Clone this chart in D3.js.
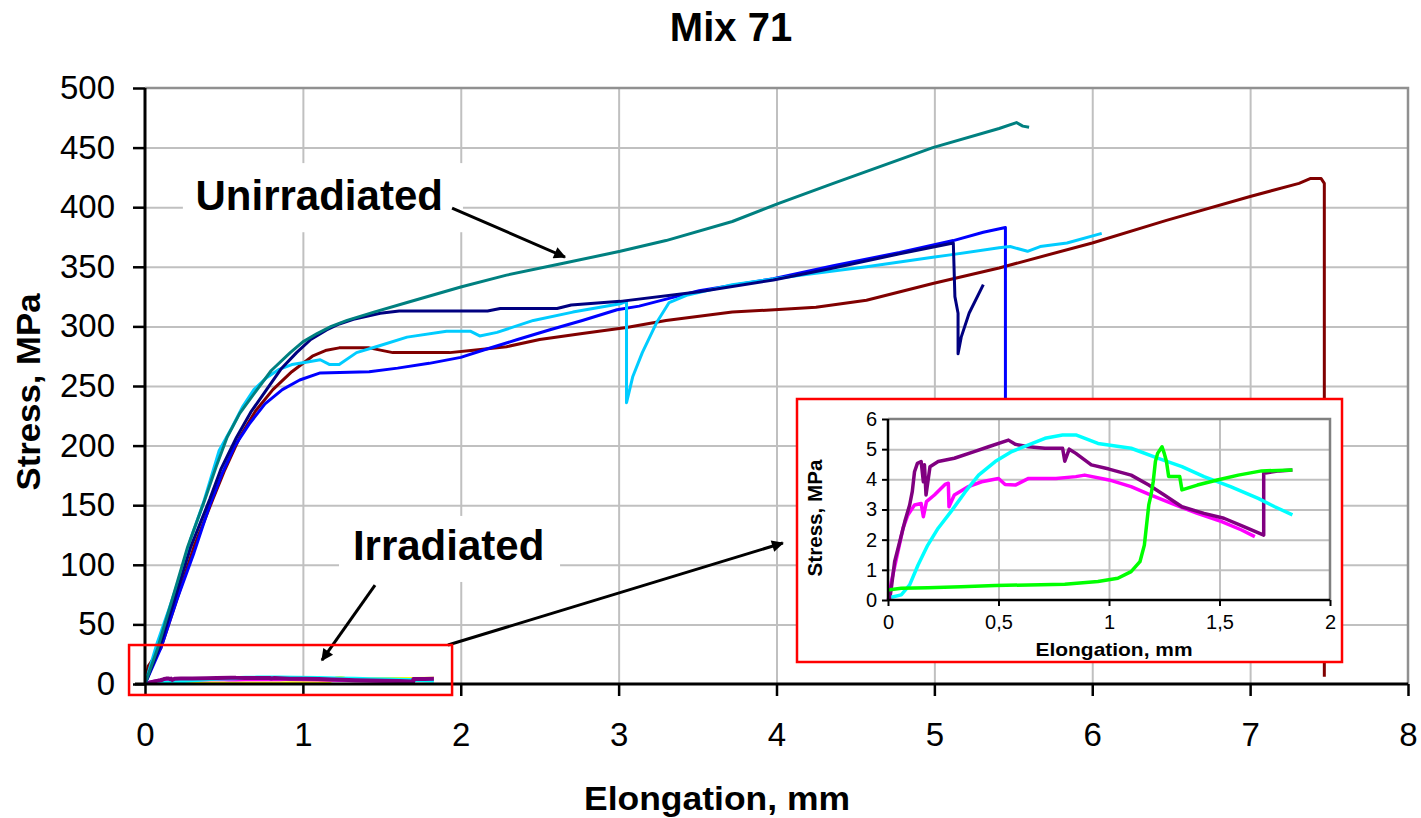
<!DOCTYPE html>
<html>
<head>
<meta charset="utf-8">
<script src="https://cdnjs.cloudflare.com/ajax/libs/d3/7.8.5/d3.min.js"></script>
<style>
  html, body { margin: 0; padding: 0; background: #fff; }
  svg { display: block; font-family: "Liberation Sans", Arial, sans-serif; }
</style>
</head>
<body>
<script>
// tick labels
var xTicks = [0, 1, 2, 3, 4, 5, 6, 7, 8];
var yTicks = [0, 50, 100, 150, 200, 250, 300, 350, 400, 450, 500];
var insetXTicks = [0, 0.5, 1, 1.5, 2];
var insetXLabels = ["0", "0,5", "1", "1,5", "2"];
var insetYTicks = [0, 1, 2, 3, 4, 5, 6];

// unirradiated specimens: [elongation mm, stress MPa]
var teal = [[0,0],[0.08,30],[0.17,70],[0.27,115],[0.38,155],[0.45,182],[0.52,207],[0.6,227],[0.71,247],[0.8,263],[0.92,278],[1.0,287],[1.09,294],[1.18,300],[1.28,305],[1.45,312],[1.66,320],[2.0,333],[2.29,343],[2.65,353],[3.01,363],[3.30,372],[3.72,388],[4.01,403],[4.36,420],[4.99,450],[5.41,466],[5.52,471],[5.56,468],[5.6,467]];
var navy = [[0,0],[0.09,30],[0.19,72],[0.29,115],[0.41,155],[0.48,180],[0.58,207],[0.67,228],[0.77,247],[0.86,264],[0.96,278],[1.05,289],[1.15,297],[1.23,302],[1.32,306],[1.49,311],[1.61,313],[2.17,313],[2.25,315],[2.61,315],[2.7,318],[3.01,321],[3.51,329],[3.98,339],[4.36,349],[4.78,361],[5.12,370],[5.13,325],[5.15,311],[5.15,277],[5.17,291],[5.22,311],[5.31,335]];
var blue = [[0,0],[0.1,30],[0.2,70],[0.31,110],[0.41,150],[0.49,177],[0.57,200],[0.665,219],[0.76,235],[0.87,247],[0.98,255],[1.11,261],[1.42,262],[1.60,265],[1.80,269],[2.0,274],[2.14,280],[2.36,289],[2.56,297],[2.77,305],[2.99,314],[3.13,317],[3.51,330],[3.98,340],[4.36,351],[4.78,362],[5.12,372],[5.31,379],[5.45,383],[5.45,30]];
var skyBlue = [[0,0],[0.076,34],[0.15,62],[0.22,90],[0.29,122],[0.37,152],[0.47,196],[0.55,215],[0.62,233],[0.69,247],[0.77,257],[0.85,264],[0.93,268],[1.02,270],[1.11,272],[1.17,268],[1.23,268],[1.34,278],[1.49,284],[1.66,291],[1.91,296],[2.06,296],[2.12,292],[2.23,295],[2.46,305],[2.71,312],[3.01,319],[3.05,321],[3.05,236],[3.09,258],[3.15,278],[3.24,303],[3.32,320],[3.43,326],[3.72,335],[4.15,343],[4.57,350],[4.99,358],[5.10,360],[5.41,366],[5.48,367],[5.59,363],[5.67,367],[5.84,370],[6.06,378]];
var darkRed = [[0,0],[0.02,15],[0.1,30],[0.2,70],[0.31,115],[0.43,155],[0.5,178],[0.6,207],[0.7,229],[0.81,247],[0.93,262],[1.06,275],[1.15,280],[1.23,282],[1.42,282],[1.57,278],[1.93,278],[2.08,280],[2.29,283],[2.50,289],[2.77,294],[3.05,299],[3.30,305],[3.72,312],[4.25,316],[4.57,322],[4.99,336],[5.41,349],[6.0,370],[6.47,389],[7.0,409],[7.31,420],[7.38,424],[7.45,424],[7.47,420],[7.47,6]];

// irradiated specimens
var irrPurple = [[0,0],[0.008,0.05],[0.015,0.4],[0.03,1.27],[0.053,1.93],[0.076,2.6],[0.098,3.15],[0.11,3.6],[0.12,4.25],[0.133,4.53],[0.15,4.59],[0.16,3.92],[0.165,4.48],[0.172,3.48],[0.19,4.42],[0.227,4.59],[0.30,4.70],[0.39,4.92],[0.455,5.08],[0.545,5.30],[0.576,5.16],[0.636,5.08],[0.71,5.03],[0.79,5.03],[0.80,4.6],[0.82,5.0],[0.85,4.86],[0.92,4.48],[1.0,4.34],[1.10,4.14],[1.18,3.81],[1.25,3.48],[1.33,3.09],[1.43,2.87],[1.52,2.71],[1.61,2.43],[1.70,2.15],[1.70,4.20],[1.77,4.28],[1.83,4.31]];
var irrMagenta = [[0,0],[0.003,0.05],[0.015,0.6],[0.045,1.6],[0.068,2.38],[0.09,2.82],[0.12,3.15],[0.15,3.2],[0.16,2.76],[0.174,3.26],[0.21,3.48],[0.258,3.83],[0.273,3.87],[0.276,3.09],[0.30,3.48],[0.364,3.76],[0.424,3.92],[0.50,4.03],[0.53,3.83],[0.576,3.81],[0.636,4.03],[0.76,4.03],[0.85,4.09],[0.89,4.14],[1.0,3.98],[1.10,3.76],[1.19,3.48],[1.30,3.15],[1.40,2.87],[1.51,2.60],[1.60,2.32],[1.66,2.10]];
var irrCyan = [[0.015,0.09],[0.06,0.17],[0.098,0.5],[0.136,1.16],[0.18,1.82],[0.227,2.38],[0.29,2.98],[0.35,3.59],[0.41,4.14],[0.485,4.59],[0.56,4.92],[0.636,5.14],[0.71,5.36],[0.79,5.47],[0.85,5.47],[0.95,5.19],[1.10,5.03],[1.22,4.70],[1.33,4.42],[1.43,4.09],[1.55,3.76],[1.675,3.37],[1.75,3.09],[1.83,2.82]];
var irrGreen = [[0,0.33],[0.06,0.39],[0.18,0.41],[0.33,0.44],[0.485,0.48],[0.636,0.5],[0.80,0.52],[0.95,0.61],[1.04,0.72],[1.10,0.94],[1.14,1.27],[1.16,1.82],[1.18,3.15],[1.19,3.48],[1.20,3.92],[1.21,4.59],[1.22,4.86],[1.24,5.08],[1.25,4.86],[1.26,4.59],[1.27,4.09],[1.32,4.09],[1.33,3.65],[1.40,3.81],[1.49,3.98],[1.585,4.14],[1.69,4.28],[1.83,4.31]];

var width = 1421, height = 818;
var plot = { left: 145, right: 1408, top: 88, bottom: 684 };
var gridColor = "#c0c0c0";

var svg = d3.select("body").append("svg")
  .attr("width", width)
  .attr("height", height);

var defs = svg.append("defs");
defs.append("marker")
  .attr("id", "head")
  .attr("viewBox", "0 0 10 10")
  .attr("refX", 9).attr("refY", 5)
  .attr("markerWidth", 5.5).attr("markerHeight", 4)
  .attr("markerUnits", "strokeWidth")
  .attr("orient", "auto")
  .append("path").attr("d", "M0,0 L10,5 L0,10 Z").attr("fill", "#000");
defs.append("clipPath").attr("id", "mainClip")
  .append("rect")
  .attr("x", plot.left).attr("y", plot.top - 4)
  .attr("width", plot.right - plot.left).attr("height", plot.bottom - plot.top + 4);

var x = d3.scaleLinear().domain([0, 8]).range([plot.left, plot.right]);
var y = d3.scaleLinear().domain([0, 500]).range([plot.bottom, plot.top]);

// gridlines
svg.append("g")
  .attr("transform", "translate(0," + plot.bottom + ")")
  .call(d3.axisBottom(x).tickValues(xTicks.slice(1, -1)).tickSize(-(plot.bottom - plot.top)).tickFormat(""))
  .call(function(g){ g.select(".domain").remove(); })
  .selectAll("line").attr("stroke", gridColor).attr("stroke-width", 2);
svg.append("g")
  .attr("transform", "translate(" + plot.left + ",0)")
  .call(d3.axisLeft(y).tickValues(yTicks.slice(1, -1)).tickSize(-(plot.right - plot.left)).tickFormat(""))
  .call(function(g){ g.select(".domain").remove(); })
  .selectAll("line").attr("stroke", gridColor).attr("stroke-width", 2);

// plot border (top, right)
svg.append("path")
  .attr("d", "M" + plot.left + "," + plot.top + "H" + plot.right + "V" + plot.bottom)
  .attr("fill", "none").attr("stroke", "#909090").attr("stroke-width", 2.5);

// white label backgrounds
svg.append("rect")
  .attr("x", x(0.24)).attr("y", y(437))
  .attr("width", x(2.014) - x(0.24)).attr("height", y(379) - y(437))
  .attr("fill", "#fff");
svg.append("rect")
  .attr("x", x(1.229)).attr("y", y(141))
  .attr("width", x(2.629) - x(1.229)).attr("height", y(85.6) - y(141))
  .attr("fill", "#fff");

var line = d3.line()
  .x(function(d){ return x(d[0]); })
  .y(function(d){ return y(d[1]); });

var mainSeries = [
  { data: irrGreen, color: "#ffff00", w: 4 },
  { data: irrMagenta, color: "#ff00ff", w: 4 },
  { data: irrCyan, color: "#00ffff", w: 4 },
  { data: irrPurple, color: "#800080", w: 4 },
  { data: darkRed, color: "#800000", w: 3 },
  { data: blue, color: "#0000ff", w: 3 },
  { data: skyBlue, color: "#00ccff", w: 3 },
  { data: navy, color: "#000080", w: 3 },
  { data: teal, color: "#008080", w: 3 }
];

var lines = svg.append("g").attr("clip-path", "url(#mainClip)");
mainSeries.forEach(function(s){
  lines.append("path")
    .datum(s.data)
    .attr("fill", "none")
    .attr("stroke", s.color)
    .attr("stroke-width", s.w)
    .attr("stroke-linejoin", "round")
    .attr("d", line);
});

// axes
var xAxis = svg.append("g")
  .attr("transform", "translate(0," + plot.bottom + ")")
  .call(d3.axisBottom(x).tickValues(xTicks).tickSize(12).tickPadding(27).tickFormat(d3.format("d")));
var yAxis = svg.append("g")
  .attr("transform", "translate(" + plot.left + ",0)")
  .call(d3.axisLeft(y).tickValues(yTicks).tickSize(12).tickPadding(18).tickFormat(d3.format("d")));
[xAxis, yAxis].forEach(function(g){
  g.select(".domain").attr("stroke", "#000").attr("stroke-width", 3);
  g.selectAll(".tick line").attr("stroke", "#000").attr("stroke-width", 2.5);
  g.selectAll("text").attr("font-size", 33).attr("fill", "#000").attr("font-family", "Liberation Sans, Arial, sans-serif");
});
xAxis.select(".domain").attr("d", "M" + (plot.left - 10) + ",0H" + plot.right);
yAxis.select(".domain").attr("d", "M0," + plot.top + "V" + plot.bottom);

// titles
svg.append("text")
  .attr("x", 731).attr("y", 41)
  .attr("text-anchor", "middle")
  .attr("font-size", 40).attr("font-weight", "bold")
  .text("Mix 71");
svg.append("text")
  .attr("x", 717).attr("y", 810)
  .attr("text-anchor", "middle")
  .attr("font-size", 34).attr("font-weight", "bold")
  .attr("textLength", 266).attr("lengthAdjust", "spacingAndGlyphs")
  .text("Elongation, mm");
svg.append("text")
  .attr("transform", "translate(40,392) rotate(-90)")
  .attr("text-anchor", "middle")
  .attr("font-size", 34).attr("font-weight", "bold")
  .attr("textLength", 197).attr("lengthAdjust", "spacingAndGlyphs")
  .text("Stress, MPa");

// annotations
svg.append("text")
  .attr("x", x(0.32)).attr("y", y(397.5))
  .attr("font-size", 42).attr("font-weight", "bold")
  .text("Unirradiated");
svg.append("text")
  .attr("x", x(1.317)).attr("y", y(104))
  .attr("font-size", 42).attr("font-weight", "bold")
  .text("Irradiated");

function arrow(x0, y0, x1, y1){
  svg.append("line")
    .attr("x1", x(x0)).attr("y1", y(y0))
    .attr("x2", x(x1)).attr("y2", y(y1))
    .attr("stroke", "#000").attr("stroke-width", 3)
    .attr("marker-end", "url(#head)");
}
arrow(1.945, 399.3, 2.66, 358.2);
arrow(1.457, 83, 1.121, 20);
arrow(1.919, 32.7, 4.04, 118.3);

// red frame around irradiated curves
svg.append("rect")
  .attr("x", x(-0.101)).attr("y", y(32.7))
  .attr("width", x(1.945) - x(-0.101)).attr("height", y(-9.2) - y(32.7))
  .attr("fill", "none").attr("stroke", "#ff0000").attr("stroke-width", 2.5);

/////////////////////////////////
//  Inset: irradiated detail
/////////////////////////////////
var box = { left: 797, right: 1342, top: 399, bottom: 662 };
var ip = { left: 888, right: 1330, top: 419, bottom: 600 };

svg.append("rect")
  .attr("x", box.left).attr("y", box.top)
  .attr("width", box.right - box.left).attr("height", box.bottom - box.top)
  .attr("fill", "#fff").attr("stroke", "#ff0000").attr("stroke-width", 2.5);

var ix = d3.scaleLinear().domain([0, 2]).range([ip.left, ip.right]);
var iy = d3.scaleLinear().domain([0, 6]).range([ip.bottom, ip.top]);

svg.append("g")
  .attr("transform", "translate(0," + ip.bottom + ")")
  .call(d3.axisBottom(ix).tickValues(insetXTicks.slice(1, -1)).tickSize(-(ip.bottom - ip.top)).tickFormat(""))
  .call(function(g){ g.select(".domain").remove(); })
  .selectAll("line").attr("stroke", gridColor).attr("stroke-width", 2);
svg.append("g")
  .attr("transform", "translate(" + ip.left + ",0)")
  .call(d3.axisLeft(iy).tickValues(insetYTicks.slice(1, -1)).tickSize(-(ip.right - ip.left)).tickFormat(""))
  .call(function(g){ g.select(".domain").remove(); })
  .selectAll("line").attr("stroke", gridColor).attr("stroke-width", 2);
svg.append("path")
  .attr("d", "M" + ip.left + "," + ip.top + "H" + ip.right + "V" + ip.bottom)
  .attr("fill", "none").attr("stroke", "#808080").attr("stroke-width", 2.5);

var iline = d3.line()
  .x(function(d){ return ix(d[0]); })
  .y(function(d){ return iy(d[1]); });

[
  { data: irrMagenta, color: "#ff00ff" },
  { data: irrPurple, color: "#800080" },
  { data: irrCyan, color: "#00ffff" },
  { data: irrGreen, color: "#00ff00" }
].forEach(function(s){
  svg.append("path")
    .datum(s.data)
    .attr("fill", "none")
    .attr("stroke", s.color)
    .attr("stroke-width", 3.5)
    .attr("stroke-linejoin", "round")
    .attr("d", iline);
});

var ixAxis = svg.append("g")
  .attr("transform", "translate(0," + ip.bottom + ")")
  .call(d3.axisBottom(ix).tickValues(insetXTicks).tickSize(6).tickPadding(9)
    .tickFormat(function(d, i){ return insetXLabels[i]; }));
var iyAxis = svg.append("g")
  .attr("transform", "translate(" + ip.left + ",0)")
  .call(d3.axisLeft(iy).tickValues(insetYTicks).tickSize(6).tickPadding(5).tickFormat(d3.format("d")));
[ixAxis, iyAxis].forEach(function(g){
  g.select(".domain").attr("stroke", "#000").attr("stroke-width", 2.5);
  g.selectAll(".tick line").attr("stroke", "#000").attr("stroke-width", 2);
  g.selectAll("text").attr("font-size", 20).attr("fill", "#000").attr("font-family", "Liberation Sans, Arial, sans-serif");
});
ixAxis.select(".domain").attr("d", "M" + ip.left + ",0H" + ip.right);
iyAxis.select(".domain").attr("d", "M0," + ip.top + "V" + ip.bottom);

svg.append("text")
  .attr("x", 1114).attr("y", 656)
  .attr("text-anchor", "middle")
  .attr("font-size", 19).attr("font-weight", "bold")
  .attr("textLength", 157).attr("lengthAdjust", "spacingAndGlyphs")
  .text("Elongation, mm");
svg.append("text")
  .attr("transform", "translate(822,518) rotate(-90)")
  .attr("text-anchor", "middle")
  .attr("font-size", 20).attr("font-weight", "bold")
  .attr("textLength", 117).attr("lengthAdjust", "spacingAndGlyphs")
  .text("Stress, MPa");
</script>
</body>
</html>
